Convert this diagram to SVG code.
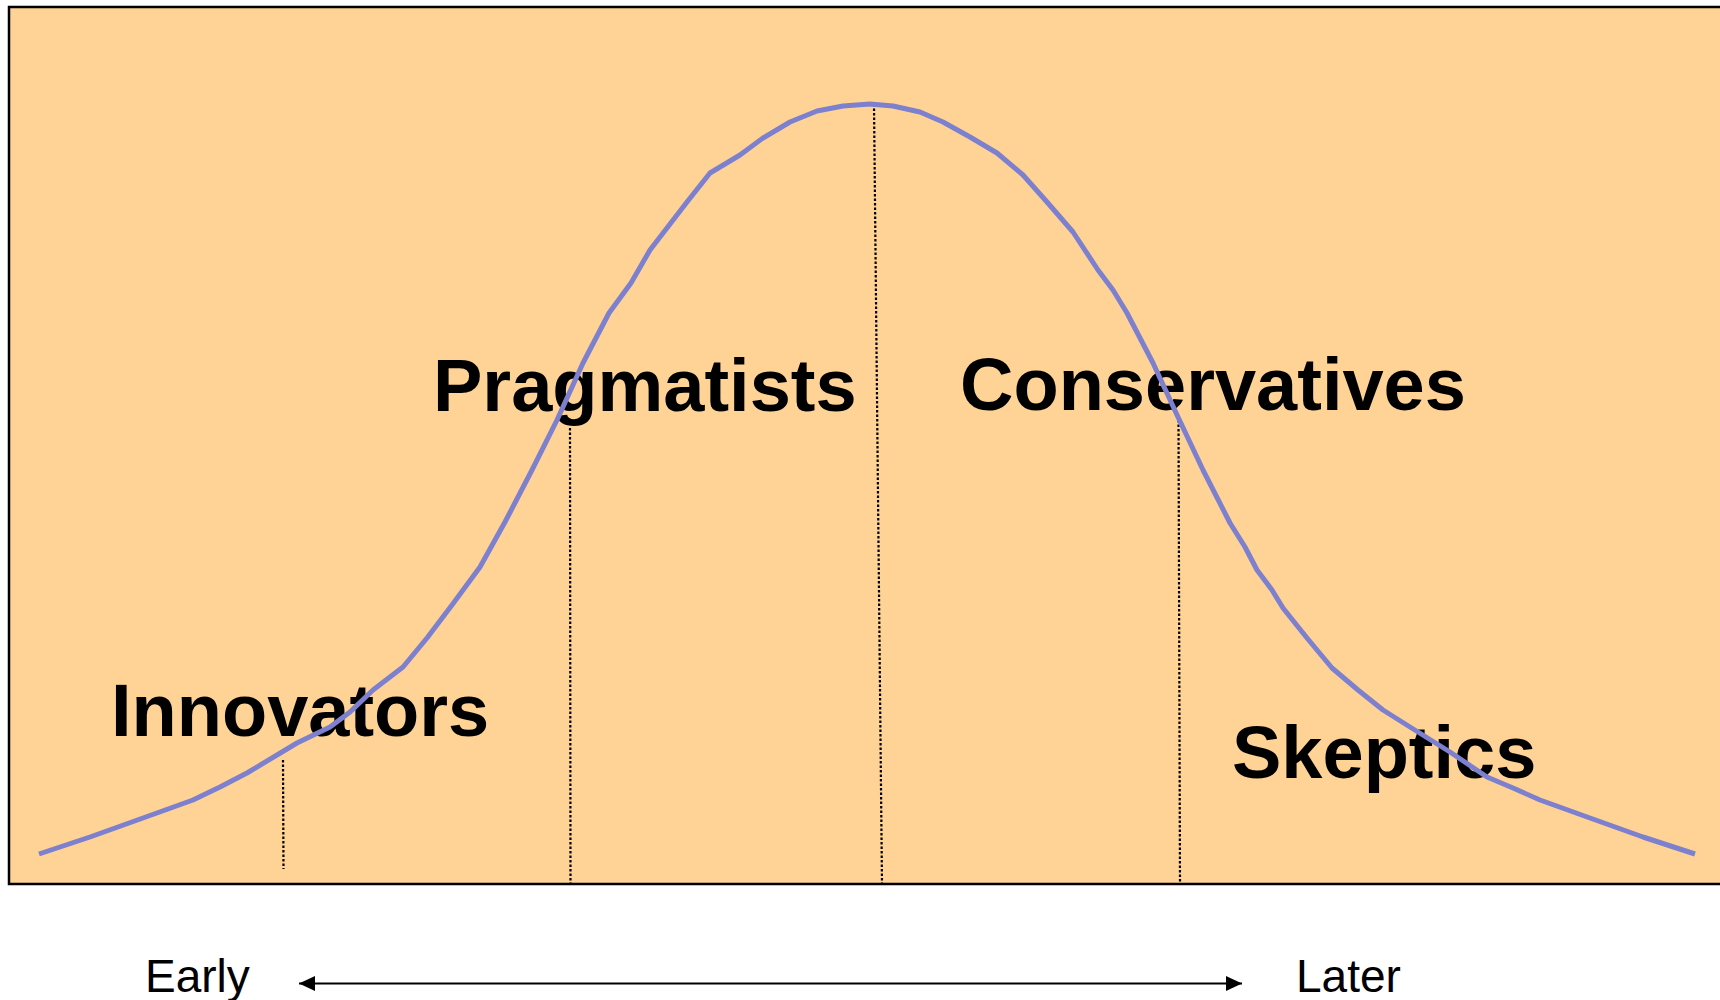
<svg xmlns="http://www.w3.org/2000/svg" width="1720" height="1000" viewBox="0 0 1720 1000">
  <style>
    .big { font-family: "Liberation Sans", Arial, sans-serif; font-weight: bold; font-size: 74px; fill: #000; }
    .small { font-family: "Liberation Sans", Arial, sans-serif; font-size: 46px; fill: #000; }
    .dot { stroke: #000; stroke-width: 2.2; stroke-dasharray: 2.5 2; fill: none; }
    .curve { stroke: #7c80cf; stroke-width: 5; fill: none; stroke-linejoin: round; stroke-linecap: butt; }
  </style>
  <defs>
    <marker id="ah" viewBox="0 0 16 16" refX="16" refY="8" markerWidth="16" markerHeight="16" markerUnits="userSpaceOnUse" orient="auto-start-reverse">
      <path d="M0,0.5 L16,8 L0,15.5 Z" fill="#000"/>
    </marker>
  </defs>
  <rect x="0" y="0" width="1720" height="1000" fill="#fff"/>
  <g id="panel">
    <rect x="9" y="7" width="1716" height="877" fill="#fed395" stroke="#000" stroke-width="2.5"/>
  </g>
  <g id="dividers">
    <line class="dot" x1="283" y1="760" x2="283.5" y2="869"/>
    <line class="dot" x1="570" y1="428" x2="570.5" y2="884"/>
    <line class="dot" x1="874" y1="104" x2="882" y2="884"/>
    <line class="dot" x1="1178.5" y1="420" x2="1180" y2="884"/>
  </g>
  <g id="innovators"><text class="big" x="111" y="736">Innovators</text></g>
  <g id="pragmatists"><text class="big" x="433" y="411">Pragmatists</text></g>
  <g id="conservatives"><text class="big" x="960" y="410">Conservatives</text></g>
  <g id="skeptics"><text class="big" x="1232" y="778">Skeptics</text></g>
  <g id="curve">
    <polyline class="curve" points="39,854 90,837 143,818 193,800 220,787 247,773 297,743 330,727 350,712 373,690 403,667 427,638 452,605 480,567 505,522 532,470 557,420 583,363 609,313 631,283 650,250 687,202 710,173 740,155 763,138 790,122 817,111 843,106 870,104 893,106 920,112 943,122 970,137 997,153 1023,175 1047,202 1073,232 1098,270 1113,290 1127,313 1153,363 1178,417 1203,470 1230,523 1245,547 1257,570 1272,590 1283,608 1307,638 1332,668 1358,690 1383,710 1410,727 1450,752 1487,777 1513,788 1540,800 1590,818 1643,837 1695,854"/>
  </g>
  <g id="early"><text class="small" x="145" y="992">Early</text></g>
  <g id="later"><text class="small" x="1296" y="992">Later</text></g>
  <g id="connectors">
    <line x1="299" y1="983.5" x2="1242" y2="983.5" stroke="#000" stroke-width="2" marker-start="url(#ah)" marker-end="url(#ah)"/>
  </g>
</svg>
